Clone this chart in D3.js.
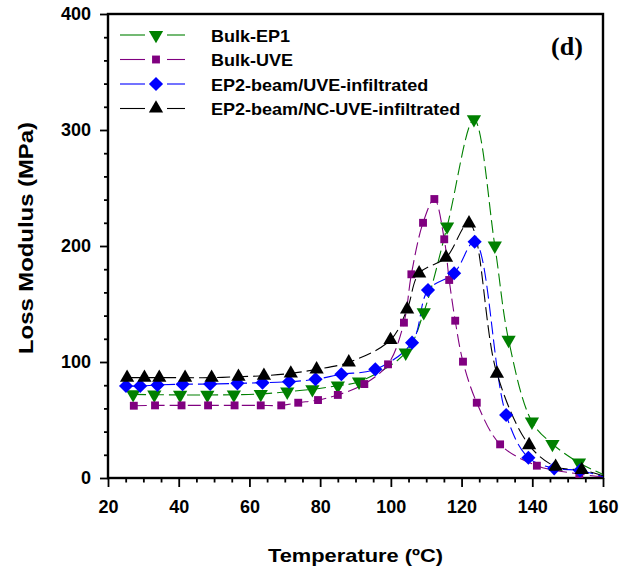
<!DOCTYPE html>
<html>
<head>
<meta charset="utf-8">
<script src="https://cdn.jsdelivr.net/npm/d3@7"></script>
<style>
  html, body { margin: 0; padding: 0; background: #fff; }
  svg { display: block; font-family: "Liberation Sans", Arial, sans-serif; }
</style>
</head>
<body>
<svg id="chart" width="631" height="571"></svg>
<script>
// Loss modulus vs temperature, four materials
const seriesNames = ["Bulk-EP1", "Bulk-UVE", "EP2-beam/UVE-infiltrated", "EP2-beam/NC-UVE-infiltrated"];
const seriesColors = ["#008000", "#800080", "#0000ff", "#000000"];
const seriesSymbols = ["down", "square", "diamond", "up"];

const ep1Temp = [27.1, 33.1, 40.4, 48.1, 55.6, 63.2, 70.7, 77.8, 85.0, 91.0, 104.2, 109.3, 115.9, 123.5, 129.4, 133.3, 139.9, 145.7, 153.2, 160];
const ep1Loss = [72.1, 71.8, 71.6, 71.6, 71.8, 72.4, 74.4, 76.5, 79.6, 83.0, 108, 142.8, 216.7, 309.2, 200.3, 119, 48.5, 29.3, 13.2, 3];

const uveTemp = [27.3, 33.3, 40.8, 48.3, 55.8, 63.2, 69.0, 73.8, 79.4, 85.0, 92.5, 99.2, 103.7, 105.8, 109.1, 112.3, 115.1, 116.5, 118.2, 120.4, 124.3, 130.9, 141.3, 153.3, 160];
const uveLoss = [62.3, 62.6, 62.6, 62.6, 62.6, 62.6, 62.6, 64.9, 67.2, 71.6, 81, 98, 133.9, 175.6, 220, 240.5, 205.8, 170.7, 135.6, 100.3, 64.9, 29, 10.6, 3.4, 1];

const beamTemp = [25.1, 29.1, 34.0, 41.1, 48.9, 56.6, 63.7, 71.2, 78.7, 86.0, 95.6, 106.0, 110.5, 117.9, 123.7, 132.6, 138.9, 146.2, 153.5, 160];
const beamLoss = [79.3, 79.3, 80.2, 80.8, 81, 81.6, 82.2, 83, 85.1, 89.4, 93.7, 116.7, 162, 176.5, 203.7, 54.3, 17.5, 8.3, 6.5, 1];

const ncTemp = [25.4, 30.3, 34.5, 41.8, 49.3, 56.9, 64.1, 71.7, 79.0, 88.1, 99.9, 104.6, 108.0, 115.6, 122.1, 130.0, 139.1, 146.6, 154.0, 160];
const ncLoss = [86.5, 86.5, 86.5, 86.5, 86.5, 87.3, 88.2, 90.2, 93.7, 99.7, 119, 145.4, 176.5, 190, 219.6, 90, 28.4, 9.8, 6.9, 2];

// last point of each list is the curve's end at the axis edge (no marker)
const seriesTemp = [ep1Temp, uveTemp, beamTemp, ncTemp];
const seriesLoss = [ep1Loss, uveLoss, beamLoss, ncLoss];

const xTicks = [20, 40, 60, 80, 100, 120, 140, 160];
const yTicks = [0, 100, 200, 300, 400];
const xTitle = "Temperature (ºC)";
const yTitle = "Loss Modulus (MPa)";
const panelTag = "(d)";

const svg = d3.select("#chart");
const plotLeft = 108, plotRight = 603, plotTop = 14, plotBottom = 478;

const x = d3.scaleLinear().domain([20, 160]).range([plotLeft, plotRight]);
const y = d3.scaleLinear().domain([0, 400]).range([plotBottom, plotTop]);

// minor ticks
const xMinor = d3.range(20, 161, 5).filter(v => !xTicks.includes(v));
const yMinor = d3.range(0, 401, 20).filter(v => !yTicks.includes(v));

const gx = svg.append("g").attr("transform", `translate(0,${plotBottom})`);
gx.call(d3.axisBottom(x).tickValues(xTicks).tickSize(9).tickPadding(13).tickFormat(d3.format("d")));
gx.append("g").call(d3.axisBottom(x).tickValues(xMinor).tickSize(4.5).tickFormat(""));
const gy = svg.append("g").attr("transform", `translate(${plotLeft},0)`);
gy.call(d3.axisLeft(y).tickValues(yTicks).tickSize(8).tickPadding(9).tickFormat(d3.format("d")));
gy.append("g").call(d3.axisLeft(y).tickValues(yMinor).tickSize(4).tickFormat(""));

svg.selectAll(".domain").remove();
svg.selectAll(".tick line").attr("stroke", "#000").attr("stroke-width", 1.8);
svg.selectAll(".tick text")
  .attr("fill", "#000")
  .style("font-size", "18px")
  .style("font-weight", "bold");

// frame
svg.append("rect")
  .attr("x", plotLeft).attr("y", plotTop)
  .attr("width", plotRight - plotLeft).attr("height", plotBottom - plotTop)
  .attr("fill", "none").attr("stroke", "#000").attr("stroke-width", 2.4);

// axis titles
svg.append("text")
  .attr("x", 268).attr("y", 562)
  .attr("textLength", 175).attr("lengthAdjust", "spacingAndGlyphs")
  .style("font-size", "19px").style("font-weight", "bold")
  .text(xTitle);
svg.append("text")
  .attr("transform", "translate(33,238) rotate(-90)")
  .attr("x", -116)
  .attr("textLength", 232).attr("lengthAdjust", "spacingAndGlyphs")
  .style("font-size", "20px").style("font-weight", "bold")
  .text(yTitle);

svg.append("text")
  .attr("x", 567).attr("y", 55)
  .attr("text-anchor", "middle")
  .style("font-family", "'Liberation Serif', 'Times New Roman', serif")
  .style("font-size", "26px").style("font-weight", "bold")
  .text(panelTag);

const symbolFor = {
  up: d3.symbol().type(d3.symbolTriangle).size(88),
  down: d3.symbol().type(d3.symbolTriangle).size(88),
  square: d3.symbol().type(d3.symbolSquare).size(62),
  diamond: d3.symbol().type(d3.symbolSquare).size(100)
};
function drawMarker(g, kind, cx, cy, color) {
  let t = `translate(${cx},${cy})`;
  if (kind === "down") t += " rotate(180)";
  if (kind === "diamond") t += " rotate(45)";
  g.append("path").attr("d", symbolFor[kind]()).attr("transform", t).attr("fill", color);
}

const line = d3.line()
  .x(d => x(d[0])).y(d => y(d[1]))
  .curve(d3.curveCatmullRom.alpha(0.5));

const plot = svg.append("g");
seriesNames.forEach((name, i) => {
  const pts = seriesTemp[i].map((t, j) => [t, seriesLoss[i][j]]);
  plot.append("path")
    .datum(pts)
    .attr("d", line)
    .attr("fill", "none")
    .attr("stroke", seriesColors[i])
    .attr("stroke-width", 1.1)
    .attr("stroke-dasharray", "13,5");
});
seriesNames.forEach((name, i) => {
  const pts = seriesTemp[i].map((t, j) => [t, seriesLoss[i][j]]).slice(0, -1);
  const g = plot.append("g");
  pts.forEach(p => drawMarker(g, seriesSymbols[i], x(p[0]), y(p[1]), seriesColors[i]));
});

// legend
const legend = svg.append("g");
seriesNames.forEach((name, i) => {
  const ly = 35 + i * 24.5;
  const g = legend.append("g");
  g.append("line").attr("x1", 120).attr("x2", 145).attr("y1", ly).attr("y2", ly)
    .attr("stroke", seriesColors[i]).attr("stroke-width", 1.1);
  g.append("line").attr("x1", 167).attr("x2", 185).attr("y1", ly).attr("y2", ly)
    .attr("stroke", seriesColors[i]).attr("stroke-width", 1.1);
  drawMarker(g, seriesSymbols[i], 156, ly, seriesColors[i]);
  const txt = g.append("text").attr("x", 211).attr("y", ly + 6.5)
    .style("font-size", "17px").style("font-weight", "bold")
    .text(name);
  // slightly widened lettering
  const w = txt.node().getComputedTextLength();
  txt.attr("textLength", w * 1.06).attr("lengthAdjust", "spacingAndGlyphs");
});
</script>
</body>
</html>
